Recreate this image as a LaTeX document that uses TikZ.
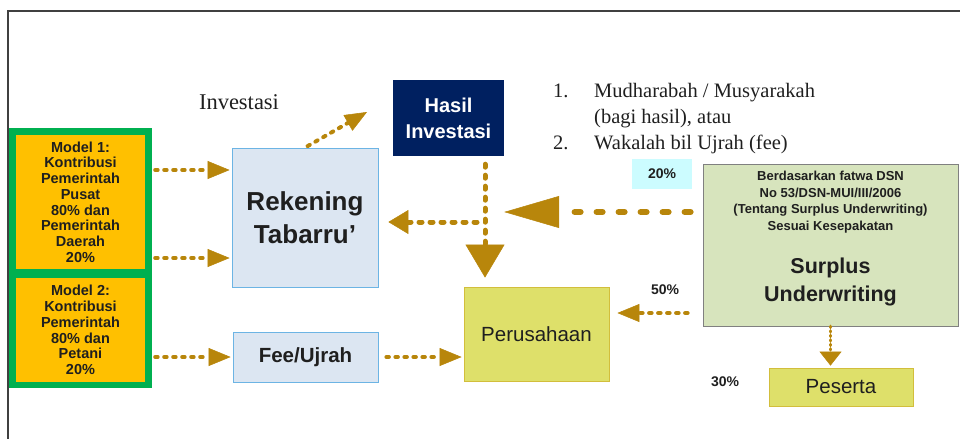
\documentclass[tikz,border=0pt]{standalone}
\usepackage{fontspec}
\setmainfont{Liberation Serif}
\setsansfont{Liberation Sans}
\usetikzlibrary{arrows.meta}

\definecolor{gold}{HTML}{B8860B}
\definecolor{grn}{HTML}{00B050}
\definecolor{yel}{HTML}{FFC000}
\definecolor{rekfill}{HTML}{DCE6F2}
\definecolor{rekline}{HTML}{6CB4E4}
\definecolor{navy}{HTML}{002060}
\definecolor{perfill}{HTML}{DEE06A}
\definecolor{perline}{HTML}{D2BE3C}
\definecolor{surfill}{HTML}{D7E4BD}
\definecolor{cyanbox}{HTML}{CCFCFF}
\definecolor{ink}{HTML}{1F1F1F}

\tikzset{
  frame/.style={draw=black!75, line width=1.5pt},
  yelbox/.style={fill=yel, minimum width=129pt, align=center, text=ink,
    font=\sffamily\bfseries\fontsize{14.5}{15.7}\selectfont},
  bluebox/.style={draw=rekline, fill=rekfill, line width=0.8pt, text=ink, align=center},
  limebox/.style={draw=perline, fill=perfill, line width=0.8pt, text=ink,
    font=\sffamily\fontsize{20.5}{24}\selectfont},
  pct/.style={text=ink, font=\sffamily\bfseries\fontsize{14}{16}\selectfont},
  flow/.style={gold, line width=4pt, dash pattern=on 2.5pt off 6.5pt, line cap=round,
    -{Triangle[length=22pt,width=18pt,line width=0.5pt]}},
}

\begin{document}
\begin{tikzpicture}[x=1pt,y=-1pt]
 \useasboundingbox (0,0) rectangle (960,439);
 \draw[frame] (960,11) -| (8,439);

 % contribution models
 \node[fill=grn, minimum width=143pt, minimum height=260pt] (grp) at (80.5,258) {};
 \node[yelbox, minimum height=134pt] (m1) at (80.5,202)
   {Model 1:\\Kontribusi\\Pemerintah\\Pusat\\80\% dan\\Pemerintah\\Daerah\\20\%};
 \node[yelbox, minimum height=104pt] (m2) at (80.5,330)
   {Model 2:\\Kontribusi\\Pemerintah\\80\% dan\\Petani\\20\%};

 % accounts
 \node[bluebox, minimum width=146pt, minimum height=139pt,
   font=\sffamily\bfseries\fontsize{26}{33}\selectfont] (rek) at (305,217.5)
   {Rekening\\Tabarru’};
 \node[bluebox, minimum width=145pt, minimum height=50pt,
   font=\sffamily\bfseries\fontsize{20.5}{24}\selectfont] (fee) at (305.5,357) {Fee/Ujrah};
 \node[fill=navy, text=white, minimum width=111pt, minimum height=76pt, align=center,
   font=\sffamily\bfseries\fontsize{20}{26}\selectfont] (hasil) at (448.5,118)
   {Hasil\\Investasi};
 \node[limebox, minimum width=145pt, minimum height=94pt] (per) at (536.5,334) {Perusahaan};

 % surplus
 \node[draw=black!50, fill=surfill, line width=0.8pt, minimum width=255pt,
   minimum height=162pt] (sur) at (830.5,245) {};
 \node[align=center, text=ink, font=\sffamily\bfseries\fontsize{13}{16.7}\selectfont]
   (fatwa) at (830.5,202)
   {Berdasarkan fatwa DSN\\No 53/DSN-MUI/III/2006\\(Tentang Surplus Underwriting)\\Sesuai Kesepakatan};
 \node[align=center, text=ink, font=\sffamily\bfseries\fontsize{21.5}{28}\selectfont]
   (surtxt) at (830.5,282) {Surplus\\Underwriting};
 \node[limebox, minimum width=144pt, minimum height=38pt] (pes) at (841,387) {Peserta};

 % labels
 \node[text=ink, font=\fontsize{22.5}{26}\selectfont] (inv) at (239,102) {Investasi};
 \node[anchor=north west, inner sep=0pt, text=ink, font=\fontsize{20.5}{26}\selectfont]
   (akad) at (553,79)
   {\begin{tabular}{@{}p{41pt}@{}l@{}}
     1. & Mudharabah / Musyarakah\\
        & (bagi hasil), atau\\
     2. & Wakalah bil Ujrah (fee)
   \end{tabular}};
 \node[pct, fill=cyanbox, minimum width=60pt, minimum height=30pt] (p20) at (662,174) {20\%};
 \node[pct] (p50) at (665,290) {50\%};
 \node[pct] (p30) at (725,382) {30\%};

 % flows
 \coordinate (lv1) at (0,170);
 \coordinate (lv2) at (0,258);
 \coordinate (lv3) at (0,212);
 \coordinate (lv4) at (0,313);
 \coordinate (jn) at (485,222);
 \coordinate (up) at (367,112);

 \draw[flow, shorten <=3pt, shorten >=2pt] (grp.east |- lv1) -- (rek.west |- lv1);
 \draw[flow, shorten <=3pt, shorten >=2pt] (grp.east |- lv2) -- (rek.west |- lv2);
 \draw[flow, shorten <=3pt, shorten >=2pt] (grp.east |- fee.west) -- (fee.west);
 \draw[flow, shorten <=8pt, shorten >=2pt] (fee.east) -- (per.west |- fee.east);
 \draw[flow, shorten <=3pt] (rek.north) -- (up);
 \draw[flow, line width=5pt, dash pattern=on 3pt off 8pt,
   -{Triangle[length=33pt,width=39pt,line width=0.5pt]}, shorten <=8pt, shorten >=9pt]
   (hasil.south -| jn) -- (per.north -| jn);
 \draw[flow, line width=5pt, dash pattern=on 3pt off 8pt,
   -{Triangle[length=20pt,width=24pt,line width=0.5pt]},
   shorten <=8pt, shorten >=10pt] (jn) -- (rek.east |- jn);
 \draw[flow, line width=6pt, dash pattern=on 6pt off 16pt,
   -{Triangle[length=55pt,width=32pt,line width=0.5pt]}, shorten <=12pt]
   (sur.west |- lv3) -- (hasil.east |- lv3);
 \draw[flow, shorten <=15pt, shorten >=8pt] (sur.west |- lv4) -- (per.east |- lv4);
 \draw[flow, line width=3.5pt, dash pattern=on 1pt off 3.5pt,
   -{Triangle[length=14pt,width=22pt,line width=0.5pt]}, shorten >=2pt]
   (sur.south) -- (sur.south |- pes.north);
\end{tikzpicture}
\end{document}
